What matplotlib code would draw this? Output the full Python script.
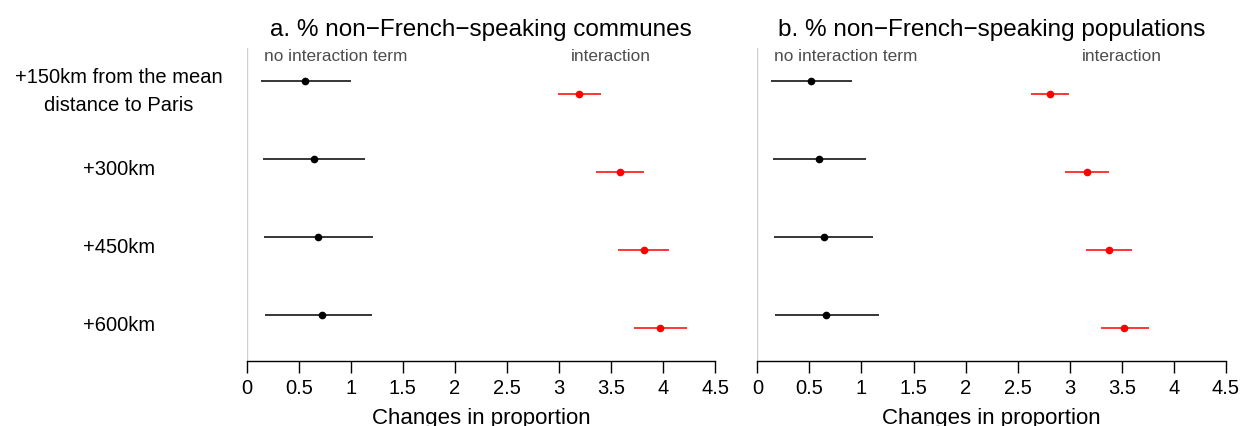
import matplotlib
matplotlib.use("Agg")
import matplotlib.pyplot as plt

plt.rcParams['font.family'] = ['Liberation Sans', 'DejaVu Sans']

# distance shifts (rows, top to bottom)
row_labels = ["+150km from the mean\ndistance to Paris", "+300km", "+450km", "+600km"]

# a. communes: estimate, lower, upper
com_plain_est = [0.563, 0.647, 0.688, 0.720]
com_plain_lo = [0.137, 0.160, 0.169, 0.179]
com_plain_hi = [0.999, 1.136, 1.216, 1.207]
com_inter_est = [3.195, 3.586, 3.814, 3.973]
com_inter_lo = [2.993, 3.356, 3.570, 3.721]
com_inter_hi = [3.400, 3.816, 4.060, 4.227]

# b. populations: estimate, lower, upper
pop_plain_est = [0.513, 0.590, 0.637, 0.660]
pop_plain_lo = [0.132, 0.151, 0.160, 0.169]
pop_plain_hi = [0.912, 1.041, 1.111, 1.165]
pop_inter_est = [2.809, 3.168, 3.376, 3.523]
pop_inter_lo = [2.628, 2.959, 3.154, 3.298]
pop_inter_hi = [2.993, 3.375, 3.597, 3.757]

xticks = [0, 0.5, 1, 1.5, 2, 2.5, 3, 3.5, 4, 4.5]
xticklabels = ["0", "0.5", "1", "1.5", "2", "2.5", "3", "3.5", "4", "4.5"]

OFFSET = 0.163  # vertical shift of the interaction estimates


def draw_panel(ax, title, plain, inter, with_labels=False):
    ax.axvline(0, color="#cfcfcf", lw=1.0, zorder=0)
    for est, lo, hi, dy, col in [(*plain, 0.0, "black"), (*inter, OFFSET, "red")]:
        for i in range(len(est)):
            y = i + dy
            ax.plot([lo[i], hi[i]], [y, y], color=col, lw=1.1, solid_capstyle="butt")
            ax.plot(est[i], y, "o", color=col, ms=4.5)

    ax.text(0.85, -0.324, "no interaction term", ha="center", va="center",
            fontsize=12.4, color="#4d4d4d")
    ax.text(3.5, -0.324, "interaction", ha="center", va="center",
            fontsize=12.4, color="#4d4d4d")

    ax.set_xlim(0, 4.5)
    ax.set_ylim(3.586, -0.419)
    ax.set_yticks([])
    for s in ["top", "right", "left"]:
        ax.spines[s].set_visible(False)
    ax.spines["bottom"].set_bounds(0, 4.5)
    ax.spines["bottom"].set_linewidth(1.0)
    ax.set_xticks(xticks)
    ax.set_xticklabels(xticklabels, fontsize=14.5)
    ax.tick_params(axis="x", length=8.3, width=1.0, pad=4)
    ax.set_xlabel("Changes in proportion", fontsize=16, labelpad=7)
    ax.set_title(title, fontsize=17.5, pad=9.5)

    if with_labels:
        for i, lab in enumerate(row_labels):
            ax.text(-0.2725, i + OFFSET / 2 + 0.035, lab, transform=ax.get_yaxis_transform(),
                    ha="center", va="center", fontsize=14.5, linespacing=1.6)


fig = plt.figure(figsize=(12.44, 4.27), dpi=100)
ax1 = fig.add_axes([0.1983, 0.1529, 0.3767, 0.7316])
ax2 = fig.add_axes([0.6088, 0.1529, 0.3767, 0.7316])

draw_panel(ax1, "a. % non\u2212French\u2212speaking communes",
           (com_plain_est, com_plain_lo, com_plain_hi),
           (com_inter_est, com_inter_lo, com_inter_hi), with_labels=True)
draw_panel(ax2, "b. % non\u2212French\u2212speaking populations",
           (pop_plain_est, pop_plain_lo, pop_plain_hi),
           (pop_inter_est, pop_inter_lo, pop_inter_hi))

fig.savefig("out.png", dpi=100)
